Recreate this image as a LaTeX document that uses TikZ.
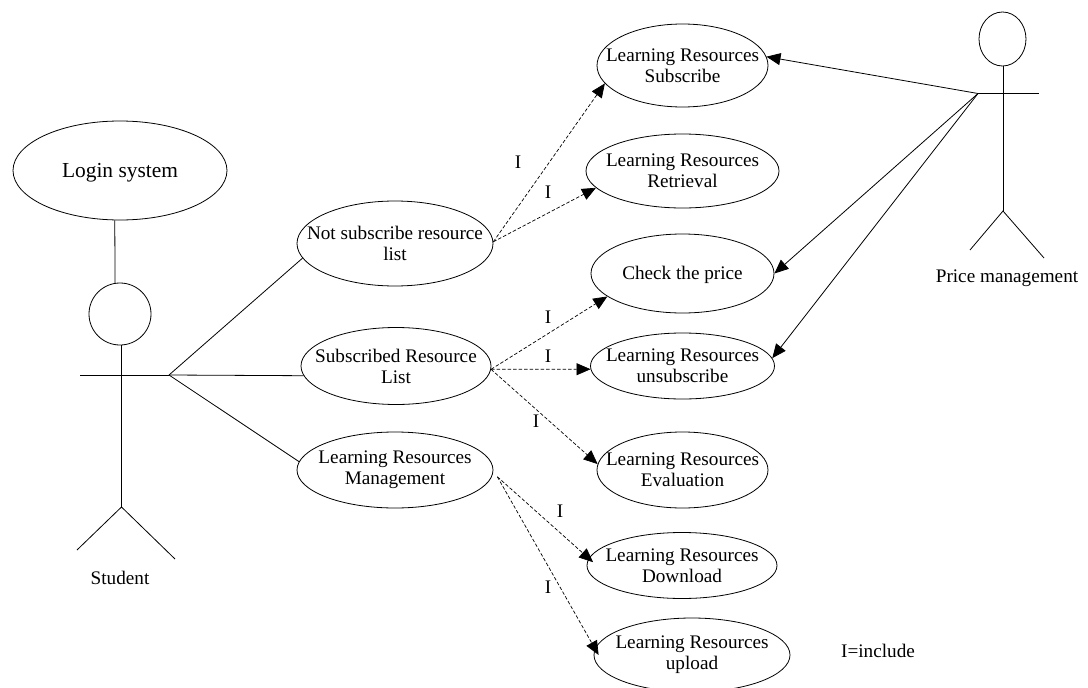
\documentclass[tikz,border=0pt]{standalone}
\usepackage{fontspec}
\setmainfont{Liberation Serif}
\usetikzlibrary{arrows.meta,shapes.geometric}
\tikzset{
  x=1pt,y=-1pt,
  usecase/.style={draw=black,ellipse,line width=0.8pt,inner sep=0pt},
  uctext/.style={align=center,inner sep=0pt,font=\fontsize{19.2}{21}\selectfont},
  logintext/.style={align=center,inner sep=0pt,yshift=-2.5pt,font=\fontsize{21.4}{24}\selectfont},
  actorhead/.style={draw=black,ellipse,line width=0.8pt,inner sep=0pt},
  actorline/.style={draw=black,line width=0.8pt},
  assoc/.style={draw=black,line width=0.8pt},
  solidarrow/.style={draw=black,line width=0.8pt,-{Triangle[length=14pt,width=12pt]}},
  inc/.style={draw=black,line width=0.7pt,dash pattern=on 3.5pt off 2pt,-{Triangle[length=14pt,width=12pt]}},
  lab/.style={font=\fontsize{19.2}{21}\selectfont,inner sep=0pt},
}
\begin{document}
\begin{tikzpicture}
\useasboundingbox (0,0) rectangle (1088,688);
\fill[white] (0,0) rectangle (1088,688);
% use cases
\node[usecase,minimum width=214pt,minimum height=99pt,label={[logintext]center:{Login system}}] (login) at (120,170.5) {};
\node[usecase,minimum width=196pt,minimum height=85pt,label={[uctext]center:{Not subscribe resource\\list}}] (ns) at (395,243.5) {};
\node[usecase,minimum width=190pt,minimum height=77pt,label={[uctext]center:{Subscribed Resource\\List}}] (sr) at (396,366) {};
\node[usecase,minimum width=196pt,minimum height=76pt,label={[uctext]center:{Learning Resources\\Management}}] (lm) at (395,470) {};
\node[usecase,minimum width=171pt,minimum height=83pt,label={[uctext]center:{Learning Resources\\Subscribe}}] (sub) at (682.5,65.5) {};
\node[usecase,minimum width=193pt,minimum height=74pt,label={[uctext]center:{Learning Resources\\Retrieval}}] (ret) at (682.5,171) {};
\node[usecase,minimum width=183pt,minimum height=79pt,label={[uctext,yshift=-1pt]center:{Check the price}}] (chk) at (682.5,273.5) {};
\node[usecase,minimum width=184pt,minimum height=66pt,label={[uctext]center:{Learning Resources\\unsubscribe}}] (uns) at (682.5,366) {};
\node[usecase,minimum width=171pt,minimum height=76pt,label={[uctext]center:{Learning Resources\\Evaluation}}] (ev) at (682.5,470) {};
\node[usecase,minimum width=190pt,minimum height=66pt,label={[uctext]center:{Learning Resources\\Download}}] (dl) at (682,565.5) {};
\node[usecase,minimum width=196pt,minimum height=74pt,label={[uctext]center:{Learning Resources\\upload}}] (ul) at (692,655) {};
% student actor
\node[actorhead,minimum width=62pt,minimum height=62pt] (shead) at (120,314) {};
\coordinate (shand) at (169,375);
\coordinate (sleft) at (80,375);
\coordinate (sneck) at (121.5,345);
\coordinate (scrotch) at (121.5,507);
\coordinate (slegl) at (77,550);
\coordinate (slegr) at (175,559);
\path[actorline] (sleft) -- (shand);
\path[actorline] (sneck) -- (scrotch);
\path[actorline] (slegl) -- (scrotch) -- (slegr);
\path[assoc] (login.264) -- (shead.99);
\node[lab] (student) at (120,578) {Student};
% price actor
\node[actorhead,minimum width=47pt,minimum height=54pt] (phead) at (1002.5,39) {};
\coordinate (phand) at (978,93.5);
\coordinate (pright) at (1039,93.5);
\coordinate (pneck) at (1003,66);
\coordinate (pcrotch) at (1003,211);
\coordinate (plegl) at (970,250);
\coordinate (plegr) at (1044,258);
\path[actorline] (phand) -- (pright);
\path[actorline] (pneck) -- (pcrotch);
\path[actorline] (plegl) -- (pcrotch) -- (plegr);
\node[lab] (pm) at (1007,278) {Price management};
% associations
\path[assoc] (shand) -- (ns.189.6);
\path[assoc] (shand) -- (sr.186.8);
\path[assoc] (shand) -- (lm.175.9);
\path[solidarrow] (phand) -- (sub.6.4);
\path[solidarrow] (phand) -- (chk.0);
\path[solidarrow] (phand) -- (uns.5.1);
% includes
\path[inc] (ns.1.5) -- (sub.193.3);
\path[inc] (ns.1.5) -- (ret.191.9);
\path[inc] (sr.-2.4) -- (chk.197.3);
\path[inc] (sr.-2.4) -- (uns.182.5);
\path[inc] (sr.-2.4) -- (ev.176.6);
\path[inc] ([xshift=5.5pt]lm.-4) -- ([xshift=6pt]dl.178);
\path[inc] ([xshift=5.5pt]lm.-4) -- ([xshift=5pt]ul.180);
% labels
\node[lab] (i1) at (518,162) {I};
\node[lab] (i2) at (548,192) {I};
\node[lab] (i3) at (548,317) {I};
\node[lab] (i4) at (548,356) {I};
\node[lab] (i5) at (536,421) {I};
\node[lab] (i6) at (560,511) {I};
\node[lab] (i7) at (548,587) {I};
\node[lab] (key) at (878,651) {I=include};
\end{tikzpicture}
\end{document}
